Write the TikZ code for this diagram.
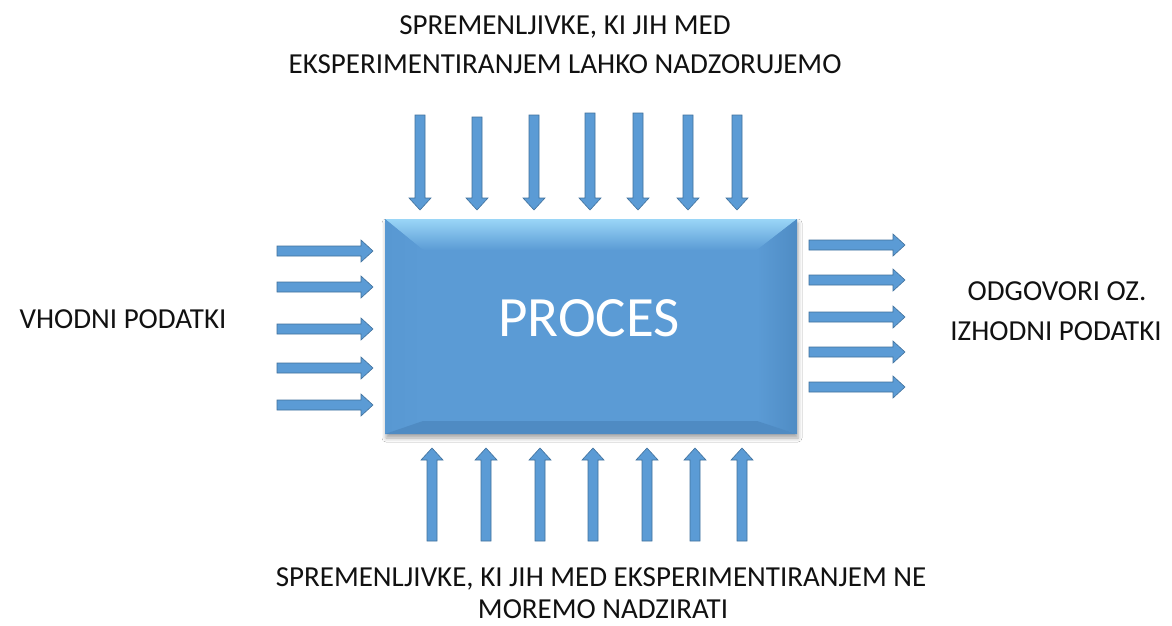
\documentclass[tikz,border=0pt]{standalone}
\usepackage{fontspec}
\setmainfont{Carlito}
\usetikzlibrary{shadows.blur}
\definecolor{face}{HTML}{5B9BD5}
\definecolor{edge}{HTML}{41719C}
\definecolor{bevtop}{HTML}{9AD6F7}
\definecolor{bevleft}{HTML}{5898D2}
\definecolor{bevright}{HTML}{4F8CC4}
\definecolor{bevbot}{HTML}{4F8BC3}
\definecolor{txt}{HTML}{111111}
\tikzset{
  arrowfill/.style={fill=face, draw=edge, line width=0.6pt, line join=miter},
  barrow/.pic={\path[arrowfill] (0,-5) -- (#1-12,-5) -- (#1-12,-11) -- (#1,0) -- (#1-12,11) -- (#1-12,5) -- (0,5) -- cycle;},
  lbl/.style={font=\fontsize{29}{35}\selectfont, text=txt, anchor=base, inner sep=0pt},
}
\begin{document}
\begin{tikzpicture}[x=1pt,y=-1pt]
\useasboundingbox (0,0) rectangle (1172,626);
\fill[white] (0,0) rectangle (1172,626);

% process box with bevel
\fill[face, blur shadow={shadow xshift=1pt, shadow yshift=-4pt, shadow blur radius=4pt, shadow opacity=35}] (385,219) rectangle (797,434);
\shade[top color=bevtop, bottom color=face] (385,219) -- (797,219) -- (757,250) -- (423,250) -- cycle;
\shade[left color=bevleft, right color=face] (385,219) -- (423,250) -- (423,421) -- (385,434) -- cycle;
\shade[left color=face, right color=bevright] (797,219) -- (757,250) -- (757,421) -- (797,434) -- cycle;
\fill[bevbot] (385,434) -- (423,421) -- (757,421) -- (797,434) -- cycle;
\fill[face] (423,250) rectangle (757,421);
\node[font=\fontsize{57}{60}\selectfont, text=white, anchor=base, inner sep=0pt] (proc) at (589,336) {PROCES};

% top arrows (pointing down)
\foreach \x/\y in {420/115, 477/117, 534/115, 590/113, 638/113, 688/115, 737/115}
  \pic[rotate=-90] at (\x,\y) {barrow={210-\y}};
% bottom arrows (pointing up)
\foreach \x in {432, 486, 540, 593, 647, 695, 742}
  \pic[rotate=90] at (\x,541) {barrow=93};
% left arrows
\foreach \y in {251, 287, 329, 368, 405}
  \pic at (277,\y) {barrow=96};
% right arrows
\foreach \y in {245, 280, 317, 352, 387}
  \pic at (809,\y) {barrow=96};

% labels
\node[lbl] (t1) at (565,35) {SPREMENLJIVKE, KI JIH MED};
\node[lbl] (t2) at (565,74) {EKSPERIMENTIRANJEM LAHKO NADZORUJEMO};
\node[lbl] (left) at (123,328) {VHODNI PODATKI};
\node[lbl] (r1) at (1057,300) {ODGOVORI OZ.};
\node[lbl] (r2) at (1056,340) {IZHODNI PODATKI};
\node[lbl] (b1) at (601,586) {SPREMENLJIVKE, KI JIH MED EKSPERIMENTIRANJEM NE};
\node[lbl] (b2) at (603,618) {MOREMO NADZIRATI};
\end{tikzpicture}
\end{document}
